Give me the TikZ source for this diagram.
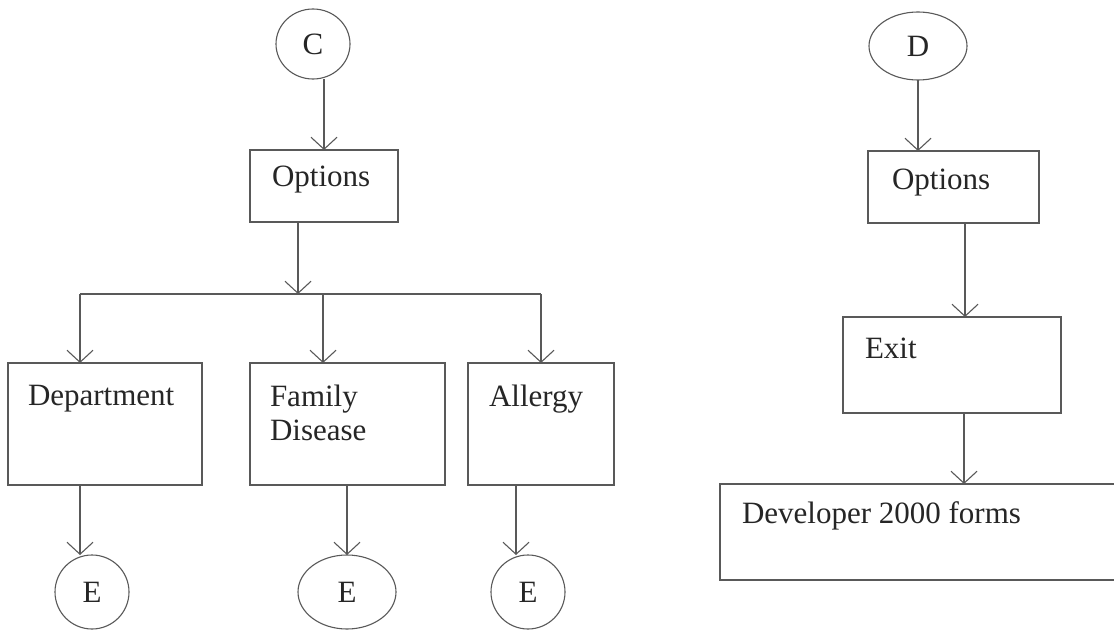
\documentclass[tikz,border=0pt]{standalone}
\usepackage{fontspec}
\setmainfont{Liberation Serif}
\usetikzlibrary{arrows.meta,shapes.geometric}
\begin{document}
\begin{tikzpicture}[x=1pt,y=-1pt,
  line width=1.1pt,
  every node/.style={inner sep=0pt, outer sep=0pt},
  box/.style={draw=black!65, rectangle},
  bub/.style={draw=black!65, ellipse, font=\fontsize{31}{36}\selectfont, text=black!85},
  lbl/.style={anchor=base west, font=\fontsize{31}{36}\selectfont, text=black!85},
  link/.style={draw=black!65, -{Straight Barb[length=12pt,width=26pt]}},
  plain/.style={draw=black!65}
]
\useasboundingbox (0,0) rectangle (1114,631);
\fill[white] (0,0) rectangle (1114,631);
\begin{scope}
\clip (0,0) rectangle (1114,631);
% ---------- left tree ----------
\node[bub, minimum width=74pt, minimum height=70pt] (C) at (313,44) {C};
\node[box, minimum width=148pt, minimum height=72pt] (optL) at (324,186) {};
\node[lbl] (optLt) at (272,187) {Options};

\node[box, minimum width=194pt, minimum height=122pt] (dept) at (105,424) {};
\node[lbl] (deptt) at (28,405) {Department};
\node[box, minimum width=195pt, minimum height=122pt] (fam) at (347.5,424) {};
\node[lbl] (famt) at (270,406) {Family};
\node[lbl] (famt2) at (270,440) {Disease};
\node[box, minimum width=146pt, minimum height=122pt] (all) at (541,424) {};
\node[lbl] (allt) at (489,406) {Allergy};

\node[bub, minimum width=74pt, minimum height=74pt] (E1) at (92,592) {E};
\node[bub, minimum width=98pt, minimum height=74pt] (E2) at (347,592) {E};
\node[bub, minimum width=74pt, minimum height=74pt] (E3) at (528,592) {E};

\coordinate (j) at (298,294);
\coordinate (jl) at (80,294);
\coordinate (jm) at (323,294);
\coordinate (jr) at (541,294);

\draw[link] ([xshift=11pt]C.south) -- (optL.north);
\draw[link] (optL.south -| j) -- (j);
\draw[plain] (jl) -- (jr);
\draw[link] (jl) -- (jl |- dept.north);
\draw[link] (jm) -- (jm |- fam.north);
\draw[link] (jr) -- (all.north);
\draw[link] ([xshift=-12pt]E1.north |- dept.south) -- ([xshift=-12pt]E1.north);
\draw[link] (fam.south -| E2.north) -- (E2.north);
\draw[link] ([xshift=-12pt]E3.north |- all.south) -- ([xshift=-12pt]E3.north);

% ---------- right chain ----------
\node[bub, minimum width=98pt, minimum height=68pt] (D) at (918,46) {D};
\node[box, minimum width=171pt, minimum height=72pt] (optR) at (953.5,187) {};
\node[lbl] (optRt) at (892,190) {Options};
\node[box, minimum width=218pt, minimum height=96pt] (exit) at (952,365) {};
\node[lbl] (exitt) at (865,358) {Exit};
\node[box, minimum width=500pt, minimum height=96pt] (dev) at (970,532) {};
\node[lbl] (devt) at (742,523) {Developer 2000 forms};

\draw[link] (D.south) -- (D.south |- optR.north);
\draw[link] ([xshift=11.5pt]optR.south) -- ([xshift=11.5pt]optR.south |- exit.north);
\draw[link] ([xshift=12pt]exit.south) -- ([xshift=12pt]exit.south |- dev.north);
\end{scope}
\end{tikzpicture}
\end{document}
